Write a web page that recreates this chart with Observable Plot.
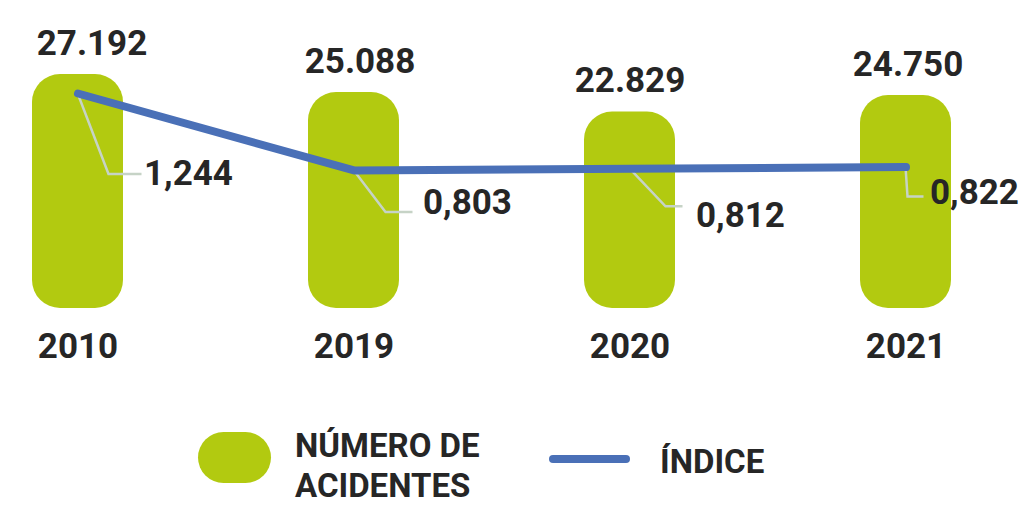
<!DOCTYPE html>
<html>
<head>
<meta charset="utf-8">
<script src="https://cdn.jsdelivr.net/npm/d3@7"></script>
<script src="https://cdn.jsdelivr.net/npm/@observablehq/plot@0.6"></script>
<style>
  html, body { margin: 0; padding: 0; background: #ffffff; }
  #wrap { position: relative; width: 1020px; height: 506px; font-family: Roboto, "DejaVu Sans", sans-serif; color: #262626; }
  #chart { position: relative; width: 1020px; height: 410px; }
  #chart svg { position: absolute; left: 0; top: 0; overflow: visible; }
  #legend { position: relative; width: 1020px; height: 96px; font-weight: 700; font-size: 33px; line-height: 40px; }
  #legend div { position: absolute; }
</style>
</head>
<body>
<div id="wrap">
  <div id="chart"></div>
  <div id="legend"></div>
</div>
<script>
// ---- data ----
const years = ["2010", "2019", "2020", "2021"];
const accidents = [27192, 25088, 22829, 24750];
const accidentLabels = ["27.192", "25.088", "22.829", "24.750"];
const indexValues = [1.244, 0.803, 0.812, 0.822];
const indexLabels = ["1,244", "0,803", "0,812", "0,822"];
const legendLabels = ["NÚMERO DE<br>ACIDENTES", "ÍNDICE"];

// ---- layout / style ----
const GREEN = "#b2ca10";
const BLUE = "#4a70b7";
const TEXT = "#262626";
const LEADER = "#c6d3c6";
const accLabelDx = [14, 6, 0, 2];
const idxLabelDx = [66, 69, 66, 24];
const idxLabelDy = [80, 32, 47, 26];
const leaderElbow = [[31, 81], [32, 42], [36, 38], [2, 30]];
const leaderEnd = [[64, 81], [59, 42], [53, 38], [18, 30]];

const rows = years.map((year, i) => ({
  year, accidents: accidents[i], accLabel: accidentLabels[i],
  index: indexValues[i], idxLabel: indexLabels[i]
}));

const xScale = {type: "band", domain: years, paddingInner: 0.67, paddingOuter: 0, align: 0.5};
const common = {width: 1020, height: 410, marginLeft: 31.5, marginRight: 68.3, marginTop: 74, marginBottom: 102};

const barPlot = Plot.plot({
  ...common,
  style: {fontFamily: "Roboto, 'DejaVu Sans', sans-serif", fontSize: "35px", fontWeight: "700", color: TEXT, background: "transparent", overflow: "visible"},
  x: {...xScale, axis: "bottom", tickSize: 0, tickPadding: 25, label: null},
  y: {domain: [0, 27192], axis: null},
  marks: [
    Plot.barY(rows, {x: "year", y: "accidents", fill: GREEN, rx: 28, ry: 28}),
    ...rows.map((r, i) => Plot.text([r], {
      x: "year", y: "accidents", text: "accLabel", dx: accLabelDx[i], dy: -20,
      lineAnchor: "bottom", fontSize: 35, fontWeight: 700, fill: TEXT
    }))
  ]
});

const linePlot = Plot.plot({
  ...common,
  style: {fontFamily: "Roboto, 'DejaVu Sans', sans-serif", fontSize: "35px", fontWeight: "700", color: TEXT, background: "transparent", overflow: "visible"},
  x: {...xScale, axis: null},
  y: {domain: [0, 1.244], range: [310, 93], axis: null},
  marks: [
    Plot.line(rows, {x: "year", y: "index", stroke: BLUE, strokeWidth: 8, strokeLinecap: "round"}),
    ...rows.map((r, i) => Plot.text([r], {
      x: "year", y: "index", text: "idxLabel", dx: idxLabelDx[i], dy: idxLabelDy[i],
      textAnchor: "start", fontSize: 35, fontWeight: 700, fill: TEXT
    }))
  ]
});

// leader lines anchored through the plot's own scales
const sx = linePlot.scale("x");
const sy = linePlot.scale("y");
const lg = d3.select(linePlot).insert("g", "g")
  .attr("fill", "none").attr("stroke", LEADER).attr("stroke-width", 2.5);
rows.forEach((r, i) => {
  const px = sx.apply(r.year) + sx.bandwidth / 2;
  const py = sy.apply(r.index);
  lg.append("path").attr("d",
    `M${px},${py}L${px + leaderElbow[i][0]},${py + leaderElbow[i][1]}L${px + leaderEnd[i][0]},${py + leaderEnd[i][1]}`);
});

const chart = document.getElementById("chart");
chart.appendChild(barPlot);
chart.appendChild(linePlot);

// legend
const legend = document.getElementById("legend");
legend.innerHTML = `
  <div style="left:198px;top:22px;width:73px;height:51px;border-radius:26px;background:${GREEN}"></div>
  <div style="left:295px;top:15.75px;white-space:nowrap;color:${TEXT}">${legendLabels[0]}</div>
  <div style="left:549px;top:45px;width:81px;height:8px;border-radius:4px;background:${BLUE}"></div>
  <div style="left:660px;top:31.75px;white-space:nowrap;color:${TEXT}">${legendLabels[1]}</div>
`;
</script>
</body>
</html>
